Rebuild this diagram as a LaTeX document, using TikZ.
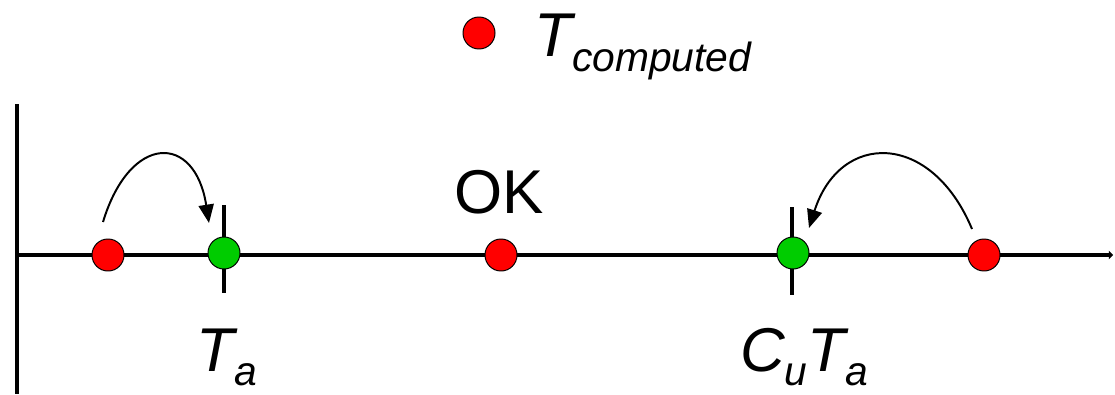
\documentclass[tikz,border=0pt]{standalone}
\usepackage{fontspec}
\setmainfont{Liberation Sans}
\usetikzlibrary{arrows.meta}
\definecolor{okgreen}{RGB}{0,204,0}
\tikzset{dot/.style={circle,draw=black,line width=0.7pt,minimum size=0.8cm,inner sep=0pt},
  lbl/.style={inner sep=0pt,font=\fontsize{44}{50}\selectfont},
  hop/.style={->,line width=1.4pt}}
\newcommand{\lowsub}[1]{\raisebox{-10pt}{\fontsize{29}{32}\selectfont #1}}

\begin{document}
\begin{tikzpicture}[x=0.025cm,y=-0.025cm,>={Triangle[length=0.46cm,width=0.38cm]},line join=round]
\useasboundingbox (0,0) rectangle (1115,394);
% --- axes
\coordinate (o) at (17,255);
\coordinate (ytop) at (17,104); \coordinate (ybot) at (17,394);
\coordinate (xend) at (1113,255);
\draw[line width=2.8pt] (ytop) -- (ybot);
\draw[line width=2.8pt,-{Triangle[length=3pt,width=6pt]}] (o) -- (xend);
% --- ticks at the two limits
\draw[line width=2.8pt] (224,205) -- (224,293);
\draw[line width=2.8pt] (792,207) -- (792,295);
% --- computed values and their corrected places
\node[dot,fill=red] (r1) at (108,255) {};
\node[dot,fill=okgreen] (g1) at (224,253) {};
\node[dot,fill=red] (r2) at (501,255) {};
\node[dot,fill=okgreen] (g2) at (793,253) {};
\node[dot,fill=red] (r3) at (984,255) {};
% --- moves
\coordinate (s1) at (103,222); \coordinate (e1) at (209,223);
\coordinate (s2) at (972,229); \coordinate (e2) at (809,228);
\draw[hop] (s1) .. controls (130,133) and (195,133) .. (e1);
\draw[hop] (s2) .. controls (931,131) and (840,131) .. (e2);
% --- labels
\node[lbl,anchor=base] (ok) at (499,213) {OK};
\node[lbl,anchor=base west] (ta) at (196,371) {\itshape T\lowsub{a}};
\node[lbl,anchor=base west] (cuta) at (740,371) {\itshape C\lowsub{u}T\lowsub{a}};
% --- key
\node[dot,fill=red] (key) at (479,33) {};
\node[lbl,anchor=base west] (tc) at (534,57) {\itshape T\lowsub{computed}};
\end{tikzpicture}
\end{document}
